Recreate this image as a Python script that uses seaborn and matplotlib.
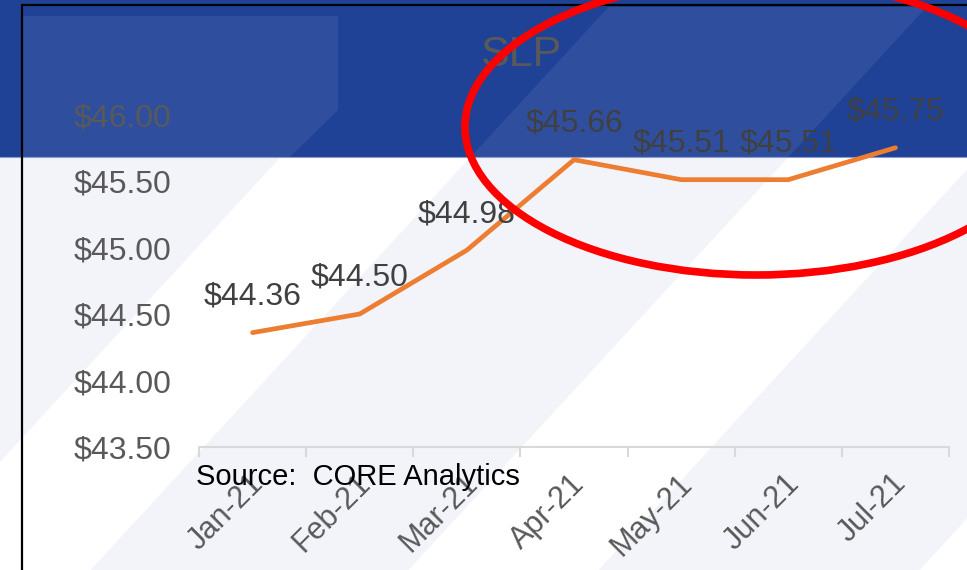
import numpy as np
import pandas as pd
import seaborn as sns
import matplotlib
matplotlib.use("Agg")
import matplotlib.pyplot as plt
from matplotlib.patches import Polygon, Rectangle, Ellipse
from matplotlib.transforms import ScaledTranslation

# ---- data ----
months = ["Jan-21", "Feb-21", "Mar-21", "Apr-21", "May-21", "Jun-21", "Jul-21"]
slp_values = [44.36, 44.50, 44.98, 45.66, 45.51, 45.51, 45.75]
y_ticks = [43.50, 44.00, 44.50, 45.00, 45.50, 46.00]
title_text = "SLP"
source_text = "Source:  CORE Analytics"

sns.set_style("white")
plt.rcParams["font.family"] = ["Liberation Sans", "DejaVu Sans"]

W, H = 967, 570
fig = plt.figure(figsize=(W / 100, H / 100), dpi=100)
fig.patch.set_facecolor("white")


def px(x, y):
    return (x / W, 1 - y / H)


# ---- background stripes ----
LIGHT = "#f3f4fa"
K = 0.92
light_bands = [(-1500, 425), (615, 933), (1123, 1444), (1634, 1955)]
for c1, c2 in light_bands:
    pts = [px(c1, 0), px(c2, 0), px(c2 - K * H, H), px(c1 - K * H, H)]
    fig.add_artist(Polygon(pts, closed=True, transform=fig.transFigure,
                           facecolor=LIGHT, edgecolor="none", zorder=-20))

# ---- blue header band ----
DARK_BLUE = "#1f4296"
LIGHT_BLUE = "#2f4f9e"
band_bottom = 157
fig.add_artist(Rectangle(px(0, band_bottom), 1, band_bottom / H, transform=fig.transFigure,
                         facecolor=DARK_BLUE, edgecolor="none", zorder=-15))


def band_poly(c1, c2, ytop):
    pts = [(c1 - K * ytop, ytop), (c2 - K * ytop, ytop),
           (c2 - K * band_bottom, band_bottom), (c1 - K * band_bottom, band_bottom)]
    return [px(x, y) for x, y in pts]


# left lighter panel: rectangle clipped by the first diagonal
left_panel = [(22, 16), (338, 16), (338, 110), (290, band_bottom), (22, band_bottom)]
fig.add_artist(Polygon([px(x, y) for x, y in left_panel], closed=True, transform=fig.transFigure,
                       facecolor=LIGHT_BLUE, edgecolor="none", zorder=-14))
for c1, c2 in light_bands[1:]:
    fig.add_artist(Polygon(band_poly(c1, c2, 7), closed=True, transform=fig.transFigure,
                           facecolor=LIGHT_BLUE, edgecolor="none", zorder=-14))
fig.add_artist(plt.Line2D([0, 1], [1 - band_bottom / H] * 2, transform=fig.transFigure,
                          color="#8c9ccc", lw=0.8, zorder=-13))

# black frame lines
fig.add_artist(plt.Line2D([22 / W, 22 / W], [0, 1 - 5 / H], transform=fig.transFigure,
                          color="black", lw=1.6, zorder=-12))
fig.add_artist(plt.Line2D([22 / W, 1], [1 - 5 / H, 1 - 5 / H], transform=fig.transFigure,
                          color="black", lw=1.6, zorder=-12))

# ---- axes ----
ax_left, ax_right = 199, 949
ax_top, ax_bottom = 114.5, 447
ax = fig.add_axes([ax_left / W, 1 - ax_bottom / H, (ax_right - ax_left) / W, (ax_bottom - ax_top) / H])
ax.patch.set_alpha(0)

df = pd.DataFrame({"month": months, "slp": slp_values})
sns.lineplot(data=df, x="month", y="slp", ax=ax, color="#ed7d31", linewidth=3.4,
             sort=False, solid_capstyle="round")

ax.set_xlim(-0.5, len(months) - 0.5)
ax.set_ylim(y_ticks[0], y_ticks[-1])
ax.set_xlabel("")
ax.set_ylabel("")
for s in ["top", "right", "left"]:
    ax.spines[s].set_visible(False)
ax.spines["bottom"].set_color("#d9d9d9")
ax.spines["bottom"].set_linewidth(1.5)

ax.set_yticks(y_ticks)
ax.set_yticklabels([f"${v:.2f}" for v in y_ticks])
ax.tick_params(axis="y", length=0, pad=20, labelsize=23, labelcolor="#595959")

ax.set_xticks(range(len(months)))
ax.set_xticklabels(months)
ax.set_xticks(np.arange(-0.5, len(months), 1.0), minor=True)
ax.tick_params(axis="x", which="major", bottom=True, length=0, pad=15.5, labelsize=22,
               labelcolor="#595959")
ax.tick_params(axis="x", which="minor", bottom=True, length=7.2, width=1.5, color="#d9d9d9",
               direction="out")
for lab in ax.get_xticklabels():
    lab.set_rotation(45)
    lab.set_ha("right")
    lab.set_va("top")
    lab.set_rotation_mode("anchor")
    lab.set_transform(lab.get_transform() + ScaledTranslation(-4 / 100, 0, fig.dpi_scale_trans))
ax.grid(False)

# data labels
for i, v in enumerate(slp_values):
    ax.annotate(f"${v:.2f}", (i, v), xytext=(0, 26), textcoords="offset points",
                ha="center", va="center", fontsize=23, color="#404040", zorder=5)

# ---- texts ----
fig.text(521 / W, 1 - 55 / H, title_text, ha="center", va="center", fontsize=31, color="#595959")
fig.text(196 / W, 1 - 477 / H, source_text, ha="left", va="center", fontsize=21, color="black",
         zorder=10)

# red ellipse highlight
fig.add_artist(Ellipse(px(756, 127), 582 / W, 296 / H, transform=fig.transFigure,
                       facecolor="none", edgecolor="#ff0000", lw=5.5, zorder=20))

fig.savefig("out.png", dpi=100)
